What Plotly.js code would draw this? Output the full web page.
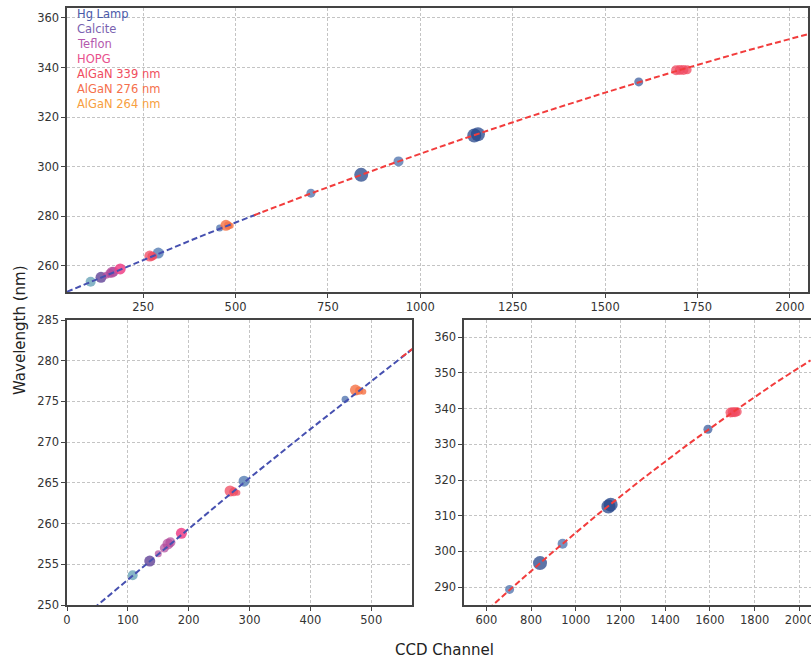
<!DOCTYPE html>
<html>
<head>
<meta charset="utf-8">
<script src="https://cdn.plot.ly/plotly-3.0.1.min.js"></script>
<style>html,body{margin:0;padding:0;background:#fff;}#chart{width:811px;height:663px;}</style>
</head>
<body>
<div id="chart"></div>
<script>
// ---- data ----
const hgX = [108, 291, 457, 704, 840, 941, 1146, 1156, 1591];
const hgY = [253.65, 265.2, 275.28, 289.36, 296.73, 302.15, 312.6, 313.1, 334.2];
const calciteX = [136];
const calciteY = [255.4];
const teflonX = [150, 160, 166, 170];
const teflonY = [256.3, 257.0, 257.5, 257.7];
const hopgX = [188];
const hopgY = [258.8];
const algan264X = [268, 274, 280];
const algan264Y = [264.0, 263.9, 263.8];
const algan276X = [474, 480, 487];
const algan276Y = [276.4, 276.3, 276.2];
const algan339X = [1692, 1702, 1712, 1722];
const algan339Y = [338.9, 339.0, 339.0, 339.1];
// fitted calibration curves
const fitLowX = [44, 100, 200, 300, 400, 500, 550, 567];
const fitLowY = [249.6, 253.1, 259.4, 265.6, 271.6, 277.5, 280.45, 281.4];
const fitHighX = [550, 700, 900, 1100, 1300, 1500, 1700, 1900, 2050];
const fitHighY = [280.45, 289.0, 300.0, 310.45, 320.4, 329.9, 338.9, 347.5, 353.5];
const legendNames = ["Hg Lamp", "Calcite", "Teflon", "HOPG", "AlGaN 339 nm", "AlGaN 276 nm", "AlGaN 264 nm"];

// ---- styles ----
const hgSizes = [10, 11, 7, 9, 14, 10, 14, 14, 9];
const hgColors = ['#5f9db3', '#4a74ad', '#4a6fab', '#4a6fab', '#26468a', '#4a6fab', '#26468a', '#26468a', '#3e5f9f'];
const legendColors = ['#4a5aa8', '#7a62b0', '#b458ae', '#e8508e', '#f04e5e', '#f5704c', '#f7a040'];

function tracesFor(xa, ya) {
  const m = (x, y, color, size, op) => ({
    x: x, y: y, xaxis: xa, yaxis: ya, type: 'scatter', mode: 'markers',
    marker: {color: color, size: size, opacity: op, line: {width: 0}},
    hoverinfo: 'skip', showlegend: false
  });
  const l = (x, y, color) => ({
    x: x, y: y, xaxis: xa, yaxis: ya, type: 'scatter', mode: 'lines',
    line: {color: color, width: 2, dash: '6px,3px'}, hoverinfo: 'skip', showlegend: false
  });
  return [
    m(hgX, hgY, hgColors, hgSizes, 0.75),
    m(calciteX, calciteY, '#6a4c9c', 11, 0.85),
    m(teflonX, teflonY, '#b0479a', [7, 9, 11, 10], 0.7),
    m(hopgX, hopgY, '#ee3f86', 11, 0.85),
    m(algan264X, algan264Y, '#f04a60', [11, 9, 6], 0.75),
    m(algan276X, algan276Y, '#f57245', [11, 8, 6], 0.8),
    m(algan339X, algan339Y, '#f04a60', [10, 10, 10, 9], 0.75),
    l(fitLowX, fitLowY, '#4650b0'),
    l(fitHighX, fitHighY, '#f23c3c')
  ];
}

const data = [].concat(tracesFor('x', 'y'), tracesFor('x2', 'y2'), tracesFor('x3', 'y3'));

const tickFont = {family: 'DejaVu Sans', size: 11.5, color: '#333'};
function ax(domain, range, dtick, tick0, anchor) {
  return {
    domain: domain, range: range, dtick: dtick, tick0: tick0, anchor: anchor,
    showgrid: true, gridcolor: '#c4c4c4', griddash: '3px,2px', gridwidth: 1,
    zeroline: false, showline: true, linecolor: '#444', linewidth: 1.6, mirror: true,
    ticks: 'outside', ticklen: 4, tickcolor: '#444', tickfont: tickFont,
    ticklabeloverflow: 'allow'
  };
}

const annotations = legendNames.map((t, i) => ({
  text: t, xref: 'paper', yref: 'paper', x: 75 / 811, y: 1 - (14 + 15 * i) / 663,
  xanchor: 'left', yanchor: 'middle', showarrow: false,
  font: {family: 'DejaVu Sans', size: 11.5, color: legendColors[i]}
}));
annotations.push({
  text: 'Wavelength (nm)', xref: 'paper', yref: 'paper', x: 20 / 811, y: 1 - 330 / 663,
  xanchor: 'center', yanchor: 'middle', textangle: -90, showarrow: false,
  font: {family: 'DejaVu Sans', size: 15, color: '#222'}
});
annotations.push({
  text: 'CCD Channel', xref: 'paper', yref: 'paper', x: 445 / 811, y: 1 - 650 / 663,
  xanchor: 'center', yanchor: 'middle', showarrow: false,
  font: {family: 'DejaVu Sans', size: 15, color: '#222'}
});

const layout = {
  width: 811, height: 663,
  margin: {l: 0, r: 0, t: 0, b: 0},
  paper_bgcolor: '#fff', plot_bgcolor: '#fff',
  xaxis: ax([67 / 811, 808 / 811], [44, 2049], 250, 0, 'y'),
  yaxis: ax([1 - 292 / 663, 1 - 8 / 663], [249.5, 364], 20, 0, 'x'),
  xaxis2: ax([67 / 811, 412 / 811], [0, 567], 100, 0, 'y2'),
  yaxis2: ax([1 - 605 / 663, 1 - 320 / 663], [250, 285], 5, 0, 'x2'),
  xaxis3: ax([464 / 811, 1], [500, 2052], 200, 0, 'y3'),
  yaxis3: ax([1 - 605 / 663, 1 - 320 / 663], [285, 364.8], 10, 0, 'x3'),
  annotations: annotations
};

Plotly.newPlot('chart', data, layout, {displayModeBar: false, staticPlot: true});
</script>
</body>
</html>
